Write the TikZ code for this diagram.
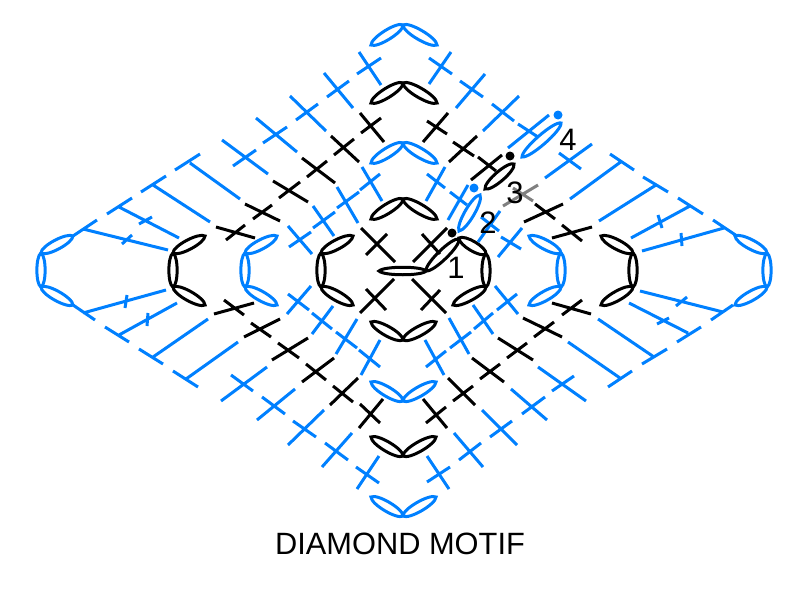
\documentclass[tikz,border=0pt]{standalone}
\usepackage{fontspec}
\setmainfont{Liberation Sans}
\usetikzlibrary{calc}
\tikzset{
  bluest/.style={draw={rgb,255:red,0;green,128;blue,255},line width=3pt},
  blackst/.style={draw=black,line width=3pt},
  greyst/.style={draw=gray,line width=3pt},
  numlabel/.style={font=\fontsize{31}{34}\selectfont,inner sep=0pt},
}
\definecolor{dotblue}{RGB}{0,128,255}
\newcommand{\leaf}[4][6.3]{\draw[#2] (#3) .. controls ($(#3)!.1!(#4)!#1pt!90:(#4)$) and ($(#3)!.92!(#4)!#1pt!-90:(#3)$) .. (#4)
    .. controls ($(#3)!.92!(#4)!#1pt!90:(#3)$) and ($(#3)!.1!(#4)!#1pt!-90:(#4)$) .. (#3) -- cycle;}
\begin{document}
\begin{tikzpicture}[x=1pt,y=-1pt]
    \useasboundingbox (0,0) rectangle (800,589);
    % ovals
    \foreach \x/\st in {41/bluest,173/blackst,245/bluest,321/blackst}{
      \pgfmathsetmacro{\tip}{\x+32}
      \leaf[5.5]{\st}{\x,253}{\x,287}
      \leaf{\st}{\tip,236}{\x,253}
      \leaf{\st}{\tip,305}{\x,287}
    }
    \foreach \x/\st in {767/bluest,633/blackst,561/bluest}{
      \pgfmathsetmacro{\tip}{\x-32}
      \leaf[5.5]{\st}{\x,253}{\x,287}
      \leaf{\st}{\tip,236}{\x,253}
      \leaf{\st}{\tip,305}{\x,287}
    }
    \leaf[5.5]{blackst}{486,254}{486,287}
    \leaf{blackst}{459,238}{486,254}
    \leaf{blackst}{453,305}{486,287}
    \foreach \y/\z/\st in {25/45/bluest,83/103/blackst,143/163/bluest,199/219/blackst}{
      \leaf{\st}{371,\z}{403,\y}
      \leaf{\st}{437,\z}{403,\y}
    }
    \foreach \y/\z/\st in {340/322/blackst,401/382/bluest,456/437/blackst,516/497/bluest}{
      \leaf{\st}{371,\z}{403,\y}
      \leaf{\st}{436,\z}{403,\y}
    }
    \leaf[5]{blackst}{379,271}{426,271}
    \leaf{blackst}{426,271}{459,239}
    \leaf{bluest}{459,231}{480,195}
    \leaf{blackst}{485,189}{514,164}
    \leaf{bluest}{522,157}{561,123}
    % upper left
    \draw[bluest] (359,52) -- (381,85) (357,74) -- (381,58);
    \draw[bluest] (324,73) -- (353,108) (327,97) -- (349,81);
    \draw[bluest] (290,96) -- (326,131) (296,120) -- (318,104);
    \draw[bluest] (256,118) -- (297,152) (263,143) -- (287,127);
    \draw[bluest] (222,140) -- (268,174) (233,166) -- (256,150);
    \draw[bluest] (190,163) -- (240,199) (175,170) -- (200,154);
    \draw[bluest] (153,185) -- (210,222) (141,192) -- (166,176);
    \draw[bluest] (119,207) -- (179,238) (107,214) -- (132,198) (139,224) -- (152,217);
    \draw[bluest] (83,229) -- (168,250) (73,236) -- (97,220) (122,244) -- (132,235);
    \draw[blackst] (360,113) -- (384,142) (361,133) -- (381,118);
    \draw[blackst] (331,136) -- (359,162) (334,155) -- (354,139);
    \draw[blackst] (302,158) -- (335,183) (307,177) -- (327,161);
    \draw[blackst] (273,181) -- (308,202) (279,198) -- (300,182);
    \draw[blackst] (245,204) -- (280,221) (253,219) -- (272,205);
    \draw[blackst] (216,227) -- (255,238) (226,240) -- (245,225);
    \draw[bluest] (362,167) -- (382,201) (360,190) -- (380,174);
    \draw[bluest] (337,187) -- (358,223) (337,208) -- (359,192);
    \draw[bluest] (313,206) -- (334,236) (313,228) -- (335,212);
    \draw[bluest] (288,226) -- (312,254) (289,247) -- (311,232);
    % centre
    \draw[blackst] (361,228) -- (395,262) (366,255) -- (387,234);
    \draw[blackst] (413,262) -- (447,228) (422,234) -- (440,254);
    \draw[blackst] (360,313) -- (394,279) (366,289) -- (386,310);
    \draw[blackst] (412,279) -- (446,313) (421,310) -- (440,290);
    % upper right
    \draw[bluest] (429,84) -- (451,52) (429,58) -- (452,74);
    \draw[bluest] (456,108) -- (485,74) (460,81) -- (483,97);
    \draw[bluest] (483,131) -- (519,96) (492,104) -- (514,121);
    \draw[bluest] (508,148) -- (549,115) (518,124) -- (538,137);
    \draw[bluest] (545,178) -- (592,144) (559,153) -- (581,169);
    \draw[bluest] (570,199) -- (622,161) (610,154) -- (634,170);
    \draw[bluest] (599,221) -- (656,185) (643,177) -- (668,192);
    \draw[bluest] (631,238) -- (690,206) (678,198) -- (703,214) (658,215) -- (662,228);
    \draw[bluest] (642,251) -- (724,228) (713,220) -- (737,236) (681,233) -- (682,246);
    \draw[blackst] (423,142) -- (448,113) (427,121) -- (447,134);
    \draw[blackst] (449,162) -- (477,136) (453,142) -- (474,156);
    \draw[blackst] (471,180) -- (502,155) (478,157) -- (496,171);
    \draw[greyst] (503,206) -- (538,185) (513,188) -- (533,201);
    \draw[blackst] (524,222) -- (563,204) (535,204) -- (555,219);
    \draw[blackst] (552,238) -- (592,227) (562,225) -- (582,241);
    \draw[bluest] (426,201) -- (445,167) (427,174) -- (445,188);
    \draw[bluest] (448,220) -- (468,185) (450,192) -- (467,205);
    \draw[bluest] (478,242) -- (500,211) (481,217) -- (499,231);
    \draw[bluest] (498,257) -- (522,228) (501,237) -- (521,249);
    % lower left
    \draw[bluest] (380,340) -- (361,375) (359,350) -- (380,367);
    \draw[bluest] (357,319) -- (336,354) (336,332) -- (357,348);
    \draw[bluest] (333,306) -- (312,334) (312,313) -- (332,329);
    \draw[bluest] (311,286) -- (287,314) (288,294) -- (309,310);
    \draw[blackst] (383,399) -- (359,428) (360,404) -- (380,423);
    \draw[blackst] (358,378) -- (330,405) (333,386) -- (353,402);
    \draw[blackst] (334,358) -- (302,382) (306,364) -- (326,380);
    \draw[blackst] (308,338) -- (272,360) (278,343) -- (299,358);
    \draw[blackst] (280,319) -- (244,337) (251,323) -- (271,337);
    \draw[blackst] (254,303) -- (214,314) (224,300) -- (244,315);
    \draw[bluest] (379,456) -- (357,489) (356,467) -- (379,483);
    \draw[bluest] (352,433) -- (322,467) (325,443) -- (348,460);
    \draw[bluest] (324,410) -- (288,445) (293,421) -- (316,437);
    \draw[bluest] (295,389) -- (257,420) (262,397) -- (285,414);
    \draw[bluest] (267,367) -- (221,401) (231,375) -- (253,391);
    \draw[bluest] (238,342) -- (186,379) (173,371) -- (198,387);
    \draw[bluest] (208,319) -- (153,357) (139,349) -- (163,364);
    \draw[bluest] (177,303) -- (119,335) (105,327) -- (129,342) (148,313) -- (147,326);
    \draw[bluest] (166,290) -- (83,313) (73,305) -- (95,320) (127,295) -- (125,308);
    % lower right
    \draw[bluest] (425,340) -- (444,375) (426,367) -- (446,351);
    \draw[bluest] (449,318) -- (469,354) (450,348) -- (471,332);
    \draw[bluest] (473,305) -- (493,334) (474,329) -- (493,313);
    \draw[bluest] (495,286) -- (518,314) (497,310) -- (517,294);
    \draw[blackst] (423,399) -- (447,428) (426,423) -- (446,407);
    \draw[blackst] (448,378) -- (475,405) (453,401) -- (473,386);
    \draw[blackst] (472,358) -- (504,382) (480,379) -- (500,364);
    \draw[blackst] (498,338) -- (533,360) (507,358) -- (527,343);
    \draw[blackst] (523,318) -- (562,337) (534,337) -- (554,322);
    \draw[blackst] (552,303) -- (591,314) (562,315) -- (582,300);
    \draw[bluest] (427,456) -- (449,489) (427,482) -- (450,467);
    \draw[bluest] (454,433) -- (483,467) (459,460) -- (481,443);
    \draw[bluest] (482,410) -- (517,445) (490,437) -- (512,421);
    \draw[bluest] (511,389) -- (547,420) (522,414) -- (545,397);
    \draw[bluest] (538,367) -- (586,401) (552,391) -- (574,376);
    \draw[bluest] (568,342) -- (620,378) (608,387) -- (632,371);
    \draw[bluest] (598,319) -- (654,357) (642,364) -- (667,349);
    \draw[bluest] (629,303) -- (688,333) (677,342) -- (701,327) (657,324) -- (669,318);
    \draw[bluest] (640,291) -- (723,312) (711,320) -- (733,305) (676,306) -- (687,297);
    % dots and numbers
    \fill[black] (452,233) circle (4.5pt);
    \fill[dotblue] (474,188) circle (4.5pt);
    \fill[black] (510,156) circle (4.5pt);
    \fill[dotblue] (558,115) circle (4.5pt);
    \node[numlabel] (one) at (456,268) {1};
    \node[numlabel] (two) at (488,223) {2};
    \node[numlabel] (three) at (515,193) {3};
    \node[numlabel] (four) at (568,140) {4};
    \node[inner sep=0pt,font=\fontsize{30.8}{36}\selectfont] (title) at (400,544) {DIAMOND MOTIF};
\end{tikzpicture}
\end{document}
